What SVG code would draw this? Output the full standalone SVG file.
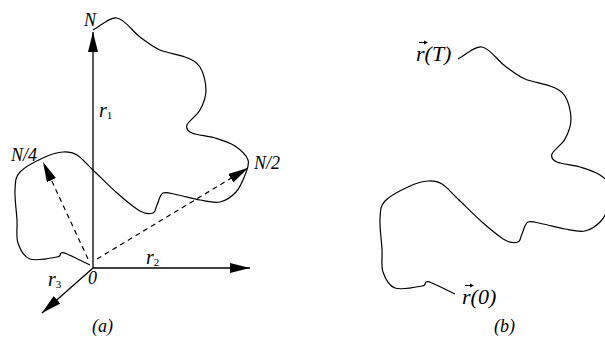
<svg xmlns="http://www.w3.org/2000/svg" width="605" height="356" viewBox="0 0 605 356">
<style>
text{font-family:'Liberation Serif','Times New Roman',serif;font-style:italic;fill:#000}
.t{font-size:18px}
.r{font-size:20px}
.big{font-size:22px}
.s{font-style:normal;font-size:11px}
.ax{stroke:#000;stroke-width:1.3;fill:none}
.ds{stroke:#000;stroke-width:1.2;fill:none;stroke-dasharray:5,4}
.cv{stroke:#000;stroke-width:1.2;fill:none}
</style>
<defs>
<marker id="ah" viewBox="0 0 20 10" refX="20" refY="5" markerWidth="20" markerHeight="10" markerUnits="userSpaceOnUse" orient="auto">
<path d="M0,0 L20,5 L0,10 z" fill="#000"/>
</marker>
<path id="walk" d="M93,30 C101,26 109.2,16.8 117,18 C124.8,19.2 132.8,31.7 140,37 C147.2,42.3 152.5,46.7 160,50 C167.5,53.3 178.3,54.2 185,57 C191.7,59.8 196.5,61.5 200,67 C203.5,72.5 206,82.8 206,90 C206,97.2 203.2,104.2 200,110 C196.8,115.8 188.3,121.2 187,125 C185.7,128.8 187.3,130.8 192,133 C196.7,135.2 207.8,135.8 215,138 C222.2,140.2 229.5,142.3 235,146 C240.5,149.7 246.3,155.2 248,160 C249.7,164.8 247,169.7 245,175 C243,180.3 240.2,187.5 236,192 C231.8,196.5 226,200.7 220,202 C214,203.3 207,201.2 200,200 C193,198.8 184.2,196.2 178,195 C171.8,193.8 166.5,191.3 163,193 C159.5,194.7 158.7,201.7 157,205 C155.3,208.3 155.8,212 153,213 C150.2,214 146,214.3 140,211 C134,207.7 124.8,199.8 117,193 C109.2,186.2 99.7,176.3 93,170 C86.3,163.7 82,158 77,155 C72,152 68.3,151.7 63,152 C57.7,152.3 52.2,153.7 45,157 C37.8,160.3 25,166.5 20,172 C15,177.5 15.5,182 15,190 C14.5,198 16.5,211.2 17,220 C17.5,228.8 15.8,236.5 18,243 C20.2,249.5 23.5,256.7 30,259 C36.5,261.3 51.8,258 57,257 C62.2,256 59.3,253.5 61,253 C62.7,252.5 62.2,252 67,254 C71.8,256 82.3,261.3 90,265"/>
</defs>
<g id="walk-a"><use href="#walk" class="cv"/></g>
<g id="walk-b"><use href="#walk" class="cv" transform="translate(365,29)"/></g>
<g id="connectors">
<line class="ax" x1="93" y1="268" x2="93" y2="32" marker-end="url(#ah)"/>
<line class="ax" x1="93" y1="268" x2="250" y2="268" marker-end="url(#ah)"/>
<line class="ax" x1="93" y1="268" x2="42" y2="313" marker-end="url(#ah)"/>
<line class="ds" x1="88" y1="259" x2="43" y2="162" marker-end="url(#ah)"/>
<line class="ds" x1="97" y1="259" x2="248" y2="168" marker-end="url(#ah)"/>
</g>
<g id="labels">
<text class="t" x="84" y="26">N</text>
<text class="r" x="99" y="117">r<tspan class="s" dy="2">1</tspan></text>
<text class="t" x="11" y="161">N/4</text>
<text class="t" x="254" y="169">N/2</text>
<text class="r" x="146" y="264">r<tspan class="s" dy="2">2</tspan></text>
<text class="r" x="48" y="286">r<tspan class="s" dy="2">3</tspan></text>
<text class="t" x="88" y="284">0</text>
<text class="t" x="92" y="332">(a)</text>
<text class="t" x="494" y="332">(b)</text>
<text class="big" x="416" y="61">r(T)</text>
<text class="big" x="462" y="304">r(0)</text>
</g>
<g id="vec-arrows">
<line x1="419" y1="42.5" x2="426" y2="42.5" stroke="#000" stroke-width="1"/>
<path d="M424,40.5 L428,42.5 L424,44.5 z" fill="#000"/>
<line x1="465" y1="285.5" x2="472" y2="285.5" stroke="#000" stroke-width="1"/>
<path d="M470,283.5 L474,285.5 L470,287.5 z" fill="#000"/>
</g>
</svg>
